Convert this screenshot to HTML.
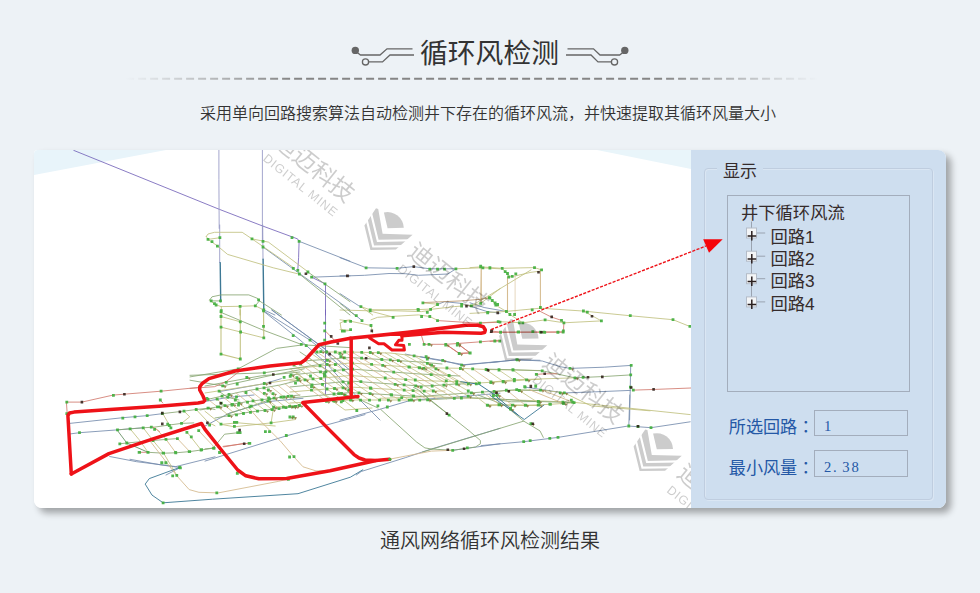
<!DOCTYPE html>
<html lang="zh-CN">
<head>
<meta charset="utf-8">
<title>循环风检测</title>
<style>
*{box-sizing:border-box;margin:0;padding:0}
html,body{width:980px;height:593px;overflow:hidden}
body{position:relative;background:#edf2f6;font-family:"Liberation Sans","Noto Sans CJK SC",sans-serif;color:#333}
.abs{position:absolute}
#title{left:-0.5px;width:980px;top:33.6px;height:40px;line-height:40px;text-align:center;font-size:27.8px;color:#333;letter-spacing:0}
#deco{left:0;top:0;width:980px;height:100px}
#sub{left:-2px;width:980px;top:102px;height:24px;line-height:24px;text-align:center;font-size:16px;color:#333;font-weight:350}
#cap{left:0;width:980px;top:525.6px;font-weight:350;height:30px;line-height:30px;text-align:center;font-size:20px;color:#333}
#card{left:34px;top:150px;width:912px;height:357.5px;border-radius:4px 8px 8px 8px;background:#fff;box-shadow:5px 5px 7.5px rgba(0,0,0,.33);overflow:hidden}
#map{left:0;top:0;width:657px;height:358px;background:#fff}
#side{left:657px;top:0;width:255px;height:358px;background:#cedeef}
#fs{left:13px;top:18px;width:229px;height:332px;border:1px solid #bfcddf;border-radius:4px;box-shadow:inset 1px 1px 0 rgba(255,255,255,.25),1px 1px 0 rgba(255,255,255,.25)}
#legend{left:56px;top:9.7px;height:24px;line-height:24px;padding:0 6px;background:#cedeef;font-size:17px;color:#352b2b}
#tree{left:69px;top:45px;width:183px;height:196.5px;border:1px solid #a3adbc}
.t0{left:83px;top:51px;font-size:17.3px;line-height:24px;color:#352b2b;white-space:nowrap}
.ti{margin-left:-1px;left:113.5px;font-size:17.3px;line-height:24px;color:#352b2b;white-space:nowrap}
.lbl{left:70.5px;font-size:17.1px;line-height:24px;color:#2458a6;white-space:nowrap}
.inp{left:123.3px;width:94px;height:26.3px;border:1px solid #a3adbc;font-family:"Liberation Serif","Noto Serif CJK SC",serif;font-size:14.6px;line-height:24px;color:#2458a6;padding-left:8.6px;padding-top:2.8px;white-space:nowrap}
.inp i{display:inline-block;width:9.2px;font-style:normal}
.lbl b{font-weight:400;font-family:"Noto Sans CJK TC","Noto Sans CJK JP",sans-serif}
</style>
</head>
<body>
<svg id="deco" class="abs" viewBox="0 0 980 100" fill="none" stroke="#666" stroke-width="1.3">
  <defs><linearGradient id="dg" gradientUnits="userSpaceOnUse" x1="126" y1="0" x2="818" y2="0"><stop offset="0" stop-color="#858585" stop-opacity="0"/><stop offset=".24" stop-color="#858585"/><stop offset=".77" stop-color="#858585"/><stop offset="1" stop-color="#858585" stop-opacity="0"/></linearGradient></defs>
  <path d="M126.1 78.8H818.100" stroke="url(#dg)" stroke-width="2" stroke-dasharray="8 4"/>
  <circle cx="355.3" cy="50.4" r="3.7" fill="#666" stroke="none"/>
  <polyline points="357.5,52.8 360.5,55 380,55 387,48.8 412.5,48.8"/>
  <circle cx="365.5" cy="61.9" r="3.1" fill="#edf2f6"/>
  <polyline points="368.8,61.9 382.5,61.9 390,55 414,55"/>
  <circle cx="624.8" cy="50.4" r="3.7" fill="#666" stroke="none"/>
  <polyline points="622.6,52.8 619.6,55 600,55 593.5,48.8 567.5,48.8"/>
  <circle cx="614.5" cy="61.9" r="3.1" fill="#edf2f6"/>
  <polyline points="611.2,61.9 598,61.9 591,55 566,55"/>
</svg>
<div id="title" class="abs">循环风检测</div>
<div id="sub" class="abs">采用单向回路搜索算法自动检测井下存在的循环风流，并快速提取其循环风量大小</div>

<div id="card" class="abs">
  <div id="map" class="abs">
<!--MAPSVG--><svg class="abs" style="left:0;top:0" width="657" height="358" viewBox="0 0 657 358" fill="none" stroke-linejoin="round" stroke-linecap="round">
<polygon points="0,0 132,0 0,25" fill="#e8f4fa"/><polygon points="563,0 657,0 657,19" fill="#e9f5fa"/>
<path d="M39.8,0.4 L185.5,59.4 L228.9,76.1 L263.6,88.9 L265.0,91.3 M265.1,91.3 L264.6,107.7 L263.8,119.9 M277.6,127.2 L291.0,133.8 M291.5,133.8 L291.5,165.0 M291.5,160.0 L291.5,244.9" stroke="#7161b8" stroke-width="0.9" opacity=".92"/>
<path d="M184.9,0.0 L184.9,29.4 L185.2,78.4 M228.4,0.0 L228.4,90.0 M185.7,75.0 L185.7,112.6 M228.7,75.0 L229.0,109.3" stroke="#9194c2" stroke-width="0.9" opacity=".92"/>
<path d="M186.2,112.6 L186.7,151.7 M229.1,109.3 L229.8,159.9" stroke="#2c6d8c" stroke-width="1.4" opacity=".92"/>
<path d="M265.1,91.3 L316.0,111.2 M277.6,127.2 L313.6,125.9 L316.0,125.9 M229.0,97.0 L263.8,122.3 L316.0,159.9 M229.8,159.9 L240.9,165.0 M306.0,107.7 L327.2,115.8 L332.1,117.8 L363.1,118.3 L379.5,116.6 L395.8,118.8 L421.9,118.8 M306.0,125.9 L313.3,125.9 L330.5,125.3 L355.0,123.5 L371.3,123.7 L384.4,125.3 L413.8,124.0 L421.9,118.8 M306.0,143.6 L324.8,155.8 L327.2,156.6 M403.5,154.5 L410.5,151.7 L427.6,153.4 L452.9,161.5 L466.0,163.2 M436.0,152.8 L450.1,157.5 L472.4,161.5 M229.5,160.8 L276.0,190.2 L291.5,202.4 L316.0,225.3 M237.6,160.0 L291.5,199.2 M185.4,241.6 L231.1,233.5 L247.4,228.6 M35.7,273.4 L88.8,267.7 L112.4,265.7 L128.8,263.6 M35.7,284.0 L45.5,282.7 L83.0,279.9 L109.2,277.8 M75.7,306.5 L102.6,311.7 L141.8,316.6 L181.0,306.8 M132.0,325.0 L146.7,317.4 M171.0,311.1 L252.6,285.8 L331.0,264.6 M171.0,251.5 L193.9,247.4 L220.0,245.0 M171.0,276.0 L195.5,263.0 L234.7,251.5 L269.0,248.3 M96.0,309.3 L126.3,314.8 L145.6,317.5 M306.0,270.1 L345.2,259.5 L377.8,250.0 L420.3,247.2 L466.0,243.2 M322.3,325.0 L327.2,321.5 L371.3,307.7 L397.4,299.0 L466.0,278.3 M418.7,300.3 L466.0,293.8 M447.2,295.6 L489.7,291.7 L524.0,287.4 L594.2,276.0 L617.0,277.7 L656.2,271.8 M595.8,245.0 L594.8,276.0 M456.0,212.7 L482.9,209.7 L508.2,211.0 L526.2,216.7 L536.0,218.4 L570.3,217.2 L597.2,215.4 M596.7,215.4 L596.1,245.3 L595.6,270.0 M491.1,237.1 L530.3,242.9 L557.2,242.0 L596.4,240.4 M314.2,160.0 L324.0,167.3 L328.0,170.6 M371.3,204.1 L397.4,209.0 L430.1,214.7 L466.0,211.4 M386.0,206.6 L408.0,210.3 L427.6,215.2 L447.2,213.4 L482.7,209.9 L506.0,210.3 M228.0,160.0 L266.0,190.0 L291.0,212.0 L326.0,250.0 L346.0,270.0 M238.0,160.0 L292.0,200.0 L318.0,222.0" stroke="#7189ab" stroke-width="0.9" opacity=".92"/>
<path d="M172.3,86.4 L174.0,84.0 L180.5,82.3 L208.2,82.3 L218.0,88.9 L228.7,91.0 L234.4,92.1 L273.6,121.5 M218.0,88.9 L260.5,118.3 M172.3,86.4 L174.0,89.4 L183.8,96.2 L193.6,104.4 L239.3,117.8 L264.6,124.0 M174.0,89.4 L185.9,87.7 M221.3,155.8 L205.8,156.3 L187.0,156.6 L180.5,154.2 L175.6,150.1 M187.3,156.6 L187.3,165.0 M221.3,155.8 L229.8,159.9 M421.9,118.8 L447.2,117.8 L466.0,118.8 M446.7,153.4 L466.0,138.7 M327.2,156.6 L336.2,159.9 L384.4,159.6 L395.8,159.1 L404.0,154.2 L389.3,153.0 M326.9,156.6 L338.7,165.0 M427.6,154.5 L437.4,155.8 L446.7,153.4 M396.6,159.4 L420.3,156.6 L427.6,156.1 M436.0,117.6 L446.6,116.9 L467.7,118.3 L500.5,117.6 L507.6,119.9 M467.7,118.3 L473.5,123.5 L474.7,127.0 L481.8,125.8 L497.0,122.3 L506.4,121.1 M497.0,119.9 L446.6,150.5 L436.0,156.3 M436.0,163.4 L471.2,161.5 L506.4,158.2 L548.6,161.0 L595.6,165.7 L639.0,169.7 L655.4,176.3 M549.4,161.0 L567.4,170.9 L529.9,172.8 L511.1,169.9 L488.8,172.8 L464.2,171.6 L443.0,173.2 M458.3,150.5 L461.8,155.2 L472.4,161.5 L475.9,164.5 L488.8,172.8 M187.0,177.1 L206.6,182.0 L229.5,187.8 M187.0,166.5 L206.3,171.8 M306.2,173.1 L311.1,170.6 L316.0,169.8 M306.2,173.1 L307.0,178.8 L310.3,181.2 L316.0,180.4 M96.1,278.8 L105.1,289.7 L114.1,302.3 M109.2,277.8 L119.0,290.5 L129.6,303.2 L142.6,325.0 M153.2,282.3 L167.1,300.0 M128.8,263.6 L135.3,275.0 L136.9,277.8 M150.0,261.1 L155.7,266.8 L147.5,273.4 M162.2,259.5 L174.5,272.6 L181.0,275.8 M171.0,261.3 L187.3,274.4 L203.7,272.8 L241.2,276.0 M187.3,274.4 L200.4,276.8 L237.9,272.8 L261.6,269.5 L259.2,266.2 M239.6,257.2 L249.4,256.4 L261.6,256.1 L269.0,252.3 M234.7,251.5 L239.6,257.2 L237.1,272.8 M311.4,251.5 L322.8,260.5 M538.7,252.2 L656.2,264.6 M346.0,248.3 L395.0,246.6 L538.7,252.2 M456.0,232.2 L480.5,229.8 L540.9,227.8 M456.0,242.9 L472.3,240.4 L508.2,240.1 L530.3,242.9 L557.2,255.9 L616.0,260.8 M456.0,255.1 L491.9,255.4 L516.4,254.3 L540.1,252.7 M306.0,169.8 L317.4,171.4 L337.0,175.5 L338.7,182.9 M337.0,169.8 L343.6,167.3 L384.4,164.9 L395.8,166.5 L404.0,170.6 M306.0,160.0 L335.4,160.8 L359.9,167.3 M335.4,160.0 L387.6,161.6 L397.4,160.0 M306.0,179.6 L317.4,180.4 M386.0,217.7 L426.4,218.3 L452.1,219.5 L482.7,220.1 L506.0,220.5 M386.0,230.5 L422.7,231.7 L444.8,233.0 L469.3,231.5 L492.5,229.9 L506.0,229.3 M453.3,255.2 L465.6,254.8 L491.3,255.2 L506.0,255.6 M278.5,202.0 L316.0,202.0 L316.0,202.0 L356.0,203.0 L356.0,203.0 L386.0,206.6 M256.0,219.0 L316.0,213.0 L316.0,213.0 L386.0,217.7 M256.0,231.0 L316.0,225.5 L316.0,225.5 L386.0,230.5 M256.0,242.0 L316.0,237.0 L316.0,237.0 L386.0,241.0 L386.0,241.0 L411.0,241.0 M256.0,253.0 L316.0,250.0 L316.0,250.0 L386.0,250.0 M262.0,222.0 L286.0,242.0 L311.0,260.0 L338.0,258.0 M171.0,243.0 L216.0,236.0 L266.0,228.0" stroke="#bfbf7c" stroke-width="0.9" opacity=".92"/>
<path d="M265.4,124.0 L316.0,165.0 M273.9,122.0 L316.0,151.7 M175.6,150.1 L178.0,146.8 L187.0,144.9 L214.8,144.9 L223.8,148.5 L225.4,150.9 L221.3,155.8 M177.2,150.9 L186.5,150.9 M225.4,150.9 L247.4,165.0 M306.0,153.4 L320.7,165.0 M187.0,162.4 L227.8,179.6 L267.0,194.3 L273.6,195.1 L316.0,197.6 M156.0,226.9 L204.2,218.8 L242.5,198.4 L267.0,195.1 M156.0,225.3 L229.5,222.9 L289.9,213.9 M156.0,230.2 L188.7,235.9 L237.6,225.3 L270.3,218.8 M185.4,241.6 L193.6,247.3 L205.0,250.0 M128.8,263.6 L150.0,261.1 L162.2,259.5 L174.5,258.2 L181.0,259.5 M83.0,279.9 L96.1,278.8 L109.2,277.8 L120.6,277.1 L135.3,275.0 L147.5,273.4 L159.8,272.9 M85.5,293.8 L92.8,293.0 L119.0,290.5 L132.0,289.4 L143.4,288.6 M114.1,302.3 L129.6,303.2 L141.8,302.8 L155.7,301.6 L167.1,300.0 L181.0,297.9 M171.0,298.9 L179.2,298.1 L190.6,284.2 L205.3,282.6 M192.2,264.6 L216.7,256.4 L239.6,248.3 M346.8,259.5 L382.7,292.1 L390.9,297.9 L397.4,299.0 L418.7,300.3 L441.5,297.0 L446.4,293.8 L446.4,290.5 L435.0,280.7 L415.4,265.2 L397.4,251.3 L384.4,239.9 L379.5,237.4 M388.4,302.1 L489.7,271.1 L470.1,254.8 L444.0,245.0 M489.7,271.1 L506.0,280.9 L509.3,287.4 M456.0,219.2 L478.9,219.7 L508.2,220.8 L540.9,227.8 L570.3,226.5 L596.7,224.9 M456.0,248.6 L477.2,251.8 L505.0,251.5 L540.1,252.7 M386.0,236.0 L398.2,235.7 L422.7,233.9 L435.0,233.9 M386.0,246.4 L437.4,242.8 L459.5,241.3 L482.7,239.7 L496.2,240.3 L506.0,240.6 M386.0,250.1 L435.0,247.7 L464.4,248.9 L506.0,251.9 M386.0,241.5 L414.2,264.2 M271.7,210.9 L316.0,207.5 L316.0,207.5 L386.0,212.0 L386.0,212.0 L408.0,214.0 M256.0,225.0 L316.0,219.0 L316.0,219.0 L386.0,224.0 L386.0,224.0 L426.0,226.0 M256.0,237.0 L316.0,231.0 L316.0,231.0 L386.0,236.0 M256.0,248.0 L316.0,242.6 L316.0,242.6 L386.0,246.4 M171.0,250.0 L206.0,242.0 L246.0,235.0 L266.0,230.0 M166.0,260.0 L211.0,252.0 L256.0,246.0 L266.0,245.0 M181.0,268.0 L216.0,262.0 L256.0,257.0 L266.0,255.0 M266.0,202.0 L296.0,222.0 L318.0,246.0 L344.0,258.0 M171.0,236.0 L226.0,226.0 L266.0,222.0" stroke="#86a470" stroke-width="0.9" opacity=".92"/>
<path d="M206.1,156.3 L206.1,165.0 M229.5,160.0 L229.8,187.8" stroke="#bfbf7c" stroke-width="1.2" opacity=".92"/>
<path d="M447.2,116.6 L446.7,153.4 M447.3,116.9 L447.3,154.0 M506.4,119.9 L506.4,157.5 M473.5,127.0 L473.5,162.2" stroke="#d2b688" stroke-width="1.1" opacity=".92"/>
<path d="M389.3,152.6 L426.8,150.9 L446.4,149.3 L455.4,147.7" stroke="#b8946a" stroke-width="0.9" opacity=".92"/>
<path d="M481.1,126.3 L481.1,163.4" stroke="#d2b688" stroke-width="0.6" opacity=".92"/>
<path d="M506.4,161.5 L517.0,166.9 L527.5,170.4 L529.9,172.8 L529.4,182.1 L506.4,182.1 L466.5,182.1 L457.1,181.0 M156.0,238.4 L180.5,236.7 L191.9,231.8 L205.0,221.7 M291.5,181.2 L296.4,186.1 L302.9,192.7 M32.4,252.1 L47.9,252.1 L79.0,245.1 L127.1,241.2 L164.7,237.4 M32.4,252.1 L33.2,263.6 M105.1,302.3 L114.1,302.3 M126.3,250.0 L128.8,253.0 M119.0,277.1 L125.5,281.5 M189.0,296.4 L210.2,293.7 L215.1,293.3 M189.7,296.9 L210.3,293.3 M456.0,182.4 L529.5,182.0 M456.0,191.4 L465.8,191.1 M599.7,240.1 L616.0,239.6 L657.0,238.0 M502.5,224.4 L510.7,223.8 L522.9,223.8 M404.0,170.6 L443.1,173.1 L466.0,172.2 M387.6,186.1 L390.1,194.3 L412.1,194.3 L423.6,193.5 L446.4,191.8 L466.0,190.2 M412.1,194.3 L425.2,203.3 L435.8,202.8 L423.6,193.5 M412.9,195.0 L425.2,203.6 L436.2,203.0 L425.2,195.0" stroke="#d0766a" stroke-width="0.9" opacity=".92"/>
<path d="M187.0,161.6 L187.0,204.1 L206.3,209.0 L206.3,160.0" stroke="#bfbf7c" stroke-width="1.1" opacity=".92"/>
<path d="M83.0,279.9 L92.8,293.0 L114.1,302.3" stroke="#5c8a5a" stroke-width="0.9" opacity=".92"/>
<path d="M120.6,277.1 L132.0,289.4 L141.8,302.8 M143.4,288.6 L155.7,301.6 M164.7,280.7 L181.0,297.9 M215.1,258.1 L224.9,269.5 L246.1,290.7 L260.0,307.0 L269.0,316.8 L282.0,320.9 L293.4,320.4 M115.3,290.0 L142.8,325.8 L155.2,339.6 L164.9,342.3 L184.2,342.9 L244.8,331.3 L255.8,328.6 M355.0,309.3 L397.4,301.1 L418.7,300.3 M495.2,239.6 L529.5,253.5 M508.2,240.1 L540.1,252.7" stroke="#d2b688" stroke-width="0.9" opacity=".92"/>
<path d="M328.8,319.8 L316.4,327.2 L264.0,343.7 L178.6,349.2 L129.1,352.8 L118.0,345.1 L111.2,334.1 L115.3,328.6 L145.6,317.5 M456.0,245.3 L490.3,269.5 L509.9,255.1" stroke="#2c6d8c" stroke-width="0.9" opacity=".92"/>
<path d="M426.4,231.7 L444.8,234.2 L459.5,244.0 L476.6,258.7 L484.0,265.0" stroke="#2c6d8c" stroke-width="1.0" opacity=".92"/>
<path d="M389.7,218.3 L412.9,231.1 M401.9,218.9 L422.7,231.7 M414.2,218.3 L435.0,233.0 M438.7,218.9 L457.0,231.7 M448.4,242.1 L465.6,254.8 M460.7,241.5 L478.4,255.2 M472.9,240.3 L491.3,255.2" stroke="#d2b688" stroke-width="0.8" opacity=".92"/>
<path d="M427.6,218.9 L444.8,232.3 M452.7,220.1 L469.3,231.5 M465.0,220.1 L480.3,230.5 M479.1,220.1 L492.5,229.9 M437.4,242.8 L453.3,255.2 M484.0,239.7 L506.0,253.8 M386.0,223.2 L399.5,231.7 M386.0,210.9 L393.3,217.7 M393.3,213.4 L401.9,218.9" stroke="#bfbf7c" stroke-width="0.8" opacity=".92"/>
<path d="M257.0,225.0 L292.5,251.3 M266.5,214.2 L317.0,250.2 M274.0,207.5 L335.5,250.2 M282.9,202.0 L354.4,250.2 M292.6,202.0 L365.1,250.0 M310.7,202.0 L385.7,250.1 M318.1,202.1 L393.6,249.8 M327.7,202.3 L403.2,249.2 M344.3,202.7 L420.3,248.4 M174.0,249.3 L183.5,256.9 M181.0,247.7 L191.0,255.7 M188.0,246.1 L198.5,254.5 M195.0,244.5 L206.0,253.3 M202.0,242.9 L213.5,252.1 M209.0,241.5 L221.0,251.1 M216.0,240.2 L228.0,249.9 M223.0,239.0 L235.5,249.0 M230.0,237.8 L242.5,247.8 M237.0,236.6 L250.0,247.0 M244.0,235.4 L257.5,246.2 M251.0,233.8 L265.5,245.4" stroke="#d2b688" stroke-width="0.8" opacity=".92"/>
<path d="M257.0,219.5 L300.0,251.0 M260.0,215.1 L309.0,250.5 M271.0,211.1 L326.5,250.1 M277.1,203.4 L345.6,250.1 M301.3,202.0 L375.3,250.2 M336.3,202.5 L412.3,248.9 M351.4,202.9 L427.4,248.0 M361.2,203.6 L434.2,246.1 M370.8,204.8 L434.3,241.0 M380.1,205.9 L434.1,236.1 M184.0,256.8 L195.0,265.6 M191.0,255.6 L202.5,264.8 M198.0,254.3 L209.5,263.5 M205.0,253.1 L216.5,262.3 M212.0,251.9 L223.5,261.1 M219.0,250.9 L231.0,260.5 M226.0,250.0 L238.0,259.6 M233.0,249.1 L245.0,258.7 M240.0,248.1 L252.0,257.7 M247.0,247.2 L259.0,256.8 M254.0,246.3 L265.5,255.5" stroke="#bfbf7c" stroke-width="0.8" opacity=".92"/>
<path d="M172.6 88.0h2.8v2.8h-2.8z M176.6 90.3h2.8v2.8h-2.8z M182.0 94.8h2.8v2.8h-2.8z M184.5 86.3h2.8v2.8h-2.8z M216.6 87.5h2.8v2.8h-2.8z M227.6 89.9h2.8v2.8h-2.8z M227.6 95.6h2.8v2.8h-2.8z M256.6 86.3h2.8v2.8h-2.8z M263.7 89.9h2.8v2.8h-2.8z M257.9 116.9h2.8v2.8h-2.8z M262.4 119.0h2.8v2.8h-2.8z M264.0 122.6h2.8v2.8h-2.8z M272.5 120.6h2.8v2.8h-2.8z M276.2 125.8h2.8v2.8h-2.8z M289.6 132.4h2.8v2.8h-2.8z M175.8 149.5h2.8v2.8h-2.8z M179.1 152.3h2.8v2.8h-2.8z M180.7 153.6h2.8v2.8h-2.8z M185.1 149.5h2.8v2.8h-2.8z M223.2 148.4h2.8v2.8h-2.8z M219.9 154.4h2.8v2.8h-2.8z M204.7 154.9h2.8v2.8h-2.8z M185.9 159.3h2.8v2.8h-2.8z M228.4 158.5h2.8v2.8h-2.8z M330.7 116.4h2.8v2.8h-2.8z M361.7 116.9h2.8v2.8h-2.8z M394.4 117.7h2.8v2.8h-2.8z M402.1 117.7h2.8v2.8h-2.8z M409.1 117.7h2.8v2.8h-2.8z M420.5 117.4h2.8v2.8h-2.8z M445.3 114.7h2.8v2.8h-2.8z M447.5 116.4h2.8v2.8h-2.8z M454.5 116.7h2.8v2.8h-2.8z M325.5 155.2h2.8v2.8h-2.8z M334.8 158.5h2.8v2.8h-2.8z M382.6 158.0h2.8v2.8h-2.8z M387.5 151.5h2.8v2.8h-2.8z M395.2 158.0h2.8v2.8h-2.8z M402.1 153.1h2.8v2.8h-2.8z M426.2 153.1h2.8v2.8h-2.8z M426.2 154.7h2.8v2.8h-2.8z M436.0 154.4h2.8v2.8h-2.8z M445.3 152.0h2.8v2.8h-2.8z M454.0 146.3h2.8v2.8h-2.8z M456.8 149.0h2.8v2.8h-2.8z M459.7 151.6h2.8v2.8h-2.8z M462.2 153.1h2.8v2.8h-2.8z M391.9 160.9h2.8v2.8h-2.8z M445.2 115.5h2.8v2.8h-2.8z M454.5 116.2h2.8v2.8h-2.8z M466.8 116.9h2.8v2.8h-2.8z M469.8 120.2h2.8v2.8h-2.8z M472.1 122.1h2.8v2.8h-2.8z M473.3 125.6h2.8v2.8h-2.8z M476.8 124.9h2.8v2.8h-2.8z M480.4 122.5h2.8v2.8h-2.8z M499.1 116.2h2.8v2.8h-2.8z M506.2 118.5h2.8v2.8h-2.8z M454.5 146.7h2.8v2.8h-2.8z M456.9 149.1h2.8v2.8h-2.8z M460.4 153.8h2.8v2.8h-2.8z M452.2 161.5h2.8v2.8h-2.8z M471.0 160.1h2.8v2.8h-2.8z M474.5 163.1h2.8v2.8h-2.8z M479.2 163.1h2.8v2.8h-2.8z M496.8 158.4h2.8v2.8h-2.8z M505.0 156.1h2.8v2.8h-2.8z M548.0 159.6h2.8v2.8h-2.8z M551.9 160.8h2.8v2.8h-2.8z M566.0 169.5h2.8v2.8h-2.8z M594.9 164.3h2.8v2.8h-2.8z M637.6 168.3h2.8v2.8h-2.8z M654.5 174.9h2.8v2.8h-2.8z M509.7 168.5h2.8v2.8h-2.8z M526.1 169.0h2.8v2.8h-2.8z M528.5 171.4h2.8v2.8h-2.8z M528.0 179.6h2.8v2.8h-2.8z M522.6 180.7h2.8v2.8h-2.8z M508.5 180.7h2.8v2.8h-2.8z M505.0 180.7h2.8v2.8h-2.8z M497.5 180.3h2.8v2.8h-2.8z M482.7 180.7h2.8v2.8h-2.8z M465.1 180.7h2.8v2.8h-2.8z M487.4 171.4h2.8v2.8h-2.8z M483.9 171.4h2.8v2.8h-2.8z M462.8 170.2h2.8v2.8h-2.8z M185.6 160.2h2.8v2.8h-2.8z M185.6 165.1h2.8v2.8h-2.8z M185.6 175.7h2.8v2.8h-2.8z M185.6 202.7h2.8v2.8h-2.8z M204.9 170.4h2.8v2.8h-2.8z M205.2 180.6h2.8v2.8h-2.8z M204.9 207.6h2.8v2.8h-2.8z M228.1 174.9h2.8v2.8h-2.8z M228.4 186.4h2.8v2.8h-2.8z M228.1 159.4h2.8v2.8h-2.8z M257.8 184.2h2.8v2.8h-2.8z M265.9 192.9h2.8v2.8h-2.8z M270.8 194.2h2.8v2.8h-2.8z M274.6 188.8h2.8v2.8h-2.8z M289.3 171.7h2.8v2.8h-2.8z M289.3 179.5h2.8v2.8h-2.8z M289.3 188.8h2.8v2.8h-2.8z M202.8 217.4h2.8v2.8h-2.8z M190.8 230.9h2.8v2.8h-2.8z M187.3 234.5h2.8v2.8h-2.8z M183.7 239.7h2.8v2.8h-2.8z M192.5 245.9h2.8v2.8h-2.8z M228.9 221.5h2.8v2.8h-2.8z M228.9 232.1h2.8v2.8h-2.8z M228.9 241.9h2.8v2.8h-2.8z M233.0 238.6h2.8v2.8h-2.8z M308.9 179.8h2.8v2.8h-2.8z M309.7 170.0h2.8v2.8h-2.8z M31.4 250.7h2.8v2.8h-2.8z M31.4 262.2h2.8v2.8h-2.8z M78.0 243.9h2.8v2.8h-2.8z M125.7 239.8h2.8v2.8h-2.8z M124.9 248.6h2.8v2.8h-2.8z M87.4 266.7h2.8v2.8h-2.8z M99.6 265.4h2.8v2.8h-2.8z M111.8 264.3h2.8v2.8h-2.8z M126.9 262.2h2.8v2.8h-2.8z M44.1 281.3h2.8v2.8h-2.8z M82.1 278.5h2.8v2.8h-2.8z M94.7 277.4h2.8v2.8h-2.8z M107.8 276.4h2.8v2.8h-2.8z M115.9 275.7h2.8v2.8h-2.8z M119.2 278.0h2.8v2.8h-2.8z M132.3 272.8h2.8v2.8h-2.8z M133.9 274.1h2.8v2.8h-2.8z M135.5 276.4h2.8v2.8h-2.8z M146.1 272.0h2.8v2.8h-2.8z M148.6 259.7h2.8v2.8h-2.8z M160.8 258.1h2.8v2.8h-2.8z M172.6 256.8h2.8v2.8h-2.8z M84.4 292.4h2.8v2.8h-2.8z M91.4 291.6h2.8v2.8h-2.8z M117.6 289.1h2.8v2.8h-2.8z M130.6 288.0h2.8v2.8h-2.8z M142.0 287.2h2.8v2.8h-2.8z M155.9 285.5h2.8v2.8h-2.8z M151.5 280.9h2.8v2.8h-2.8z M163.3 279.3h2.8v2.8h-2.8z M103.7 300.9h2.8v2.8h-2.8z M112.7 300.9h2.8v2.8h-2.8z M128.2 301.8h2.8v2.8h-2.8z M140.4 301.4h2.8v2.8h-2.8z M154.3 300.2h2.8v2.8h-2.8z M165.7 298.6h2.8v2.8h-2.8z M178.3 296.8h2.8v2.8h-2.8z M126.5 311.5h2.8v2.8h-2.8z M130.6 311.5h2.8v2.8h-2.8z M145.0 316.4h2.8v2.8h-2.8z M192.5 246.0h2.8v2.8h-2.8z M172.9 256.7h2.8v2.8h-2.8z M185.9 251.8h2.8v2.8h-2.8z M196.5 253.7h2.8v2.8h-2.8z M203.1 253.7h2.8v2.8h-2.8z M214.5 255.4h2.8v2.8h-2.8z M232.5 249.8h2.8v2.8h-2.8z M238.2 255.8h2.8v2.8h-2.8z M248.0 255.8h2.8v2.8h-2.8z M254.2 255.0h2.8v2.8h-2.8z M260.2 255.0h2.8v2.8h-2.8z M254.5 265.6h2.8v2.8h-2.8z M257.8 265.6h2.8v2.8h-2.8z M235.7 271.4h2.8v2.8h-2.8z M199.0 271.0h2.8v2.8h-2.8z M201.4 271.0h2.8v2.8h-2.8z M174.2 273.8h2.8v2.8h-2.8z M185.6 272.7h2.8v2.8h-2.8z M199.0 274.9h2.8v2.8h-2.8z M202.3 281.2h2.8v2.8h-2.8z M204.7 281.2h2.8v2.8h-2.8z M230.0 280.3h2.8v2.8h-2.8z M234.1 280.3h2.8v2.8h-2.8z M250.9 284.1h2.8v2.8h-2.8z M178.1 296.7h2.8v2.8h-2.8z M184.3 301.2h2.8v2.8h-2.8z M213.7 291.9h2.8v2.8h-2.8z M254.2 305.6h2.8v2.8h-2.8z M258.6 305.3h2.8v2.8h-2.8z M201.9 322.0h2.8v2.8h-2.8z M321.4 259.1h2.8v2.8h-2.8z M181.8 247.7h2.8v2.8h-2.8z M305.9 250.5h2.8v2.8h-2.8z M127.7 351.4h2.8v2.8h-2.8z M181.4 341.5h2.8v2.8h-2.8z M137.3 324.4h2.8v2.8h-2.8z M141.4 323.9h2.8v2.8h-2.8z M126.3 311.2h2.8v2.8h-2.8z M130.4 311.2h2.8v2.8h-2.8z M144.2 316.1h2.8v2.8h-2.8z M202.0 321.7h2.8v2.8h-2.8z M214.4 291.9h2.8v2.8h-2.8z M104.2 301.0h2.8v2.8h-2.8z M112.5 301.0h2.8v2.8h-2.8z M127.7 301.8h2.8v2.8h-2.8z M140.1 301.0h2.8v2.8h-2.8z M153.8 300.2h2.8v2.8h-2.8z M166.2 298.2h2.8v2.8h-2.8z M178.6 296.9h2.8v2.8h-2.8z M184.1 301.0h2.8v2.8h-2.8z M253.0 328.0h2.8v2.8h-2.8z M354.4 307.9h2.8v2.8h-2.8z M417.3 298.9h2.8v2.8h-2.8z M431.9 296.5h2.8v2.8h-2.8z M413.7 263.8h2.8v2.8h-2.8z M376.1 248.6h2.8v2.8h-2.8z M366.3 246.3h2.8v2.8h-2.8z M351.9 255.6h2.8v2.8h-2.8z M342.5 254.5h2.8v2.8h-2.8z M452.4 254.0h2.8v2.8h-2.8z M463.8 253.2h2.8v2.8h-2.8z M488.3 290.3h2.8v2.8h-2.8z M494.8 289.3h2.8v2.8h-2.8z M514.4 287.0h2.8v2.8h-2.8z M522.6 286.0h2.8v2.8h-2.8z M593.4 274.6h2.8v2.8h-2.8z M602.6 275.3h2.8v2.8h-2.8z M615.6 276.3h2.8v2.8h-2.8z M495.5 272.3h2.8v2.8h-2.8z M452.4 254.0h2.8v2.8h-2.8z M463.8 253.4h2.8v2.8h-2.8z M475.2 256.7h2.8v2.8h-2.8z M489.9 254.0h2.8v2.8h-2.8z M503.6 253.4h2.8v2.8h-2.8z M514.4 252.7h2.8v2.8h-2.8z M527.5 250.8h2.8v2.8h-2.8z M537.3 250.8h2.8v2.8h-2.8z M459.5 189.7h2.8v2.8h-2.8z M464.4 189.7h2.8v2.8h-2.8z M465.2 181.0h2.8v2.8h-2.8z M483.2 180.6h2.8v2.8h-2.8z M497.4 180.2h2.8v2.8h-2.8z M509.3 180.9h2.8v2.8h-2.8z M522.4 180.9h2.8v2.8h-2.8z M527.7 180.6h2.8v2.8h-2.8z M481.5 208.3h2.8v2.8h-2.8z M534.6 217.0h2.8v2.8h-2.8z M595.8 214.0h2.8v2.8h-2.8z M463.6 218.3h2.8v2.8h-2.8z M477.5 218.3h2.8v2.8h-2.8z M506.8 219.4h2.8v2.8h-2.8z M501.1 223.0h2.8v2.8h-2.8z M539.5 226.4h2.8v2.8h-2.8z M547.7 225.9h2.8v2.8h-2.8z M595.3 223.5h2.8v2.8h-2.8z M479.1 228.4h2.8v2.8h-2.8z M491.3 228.4h2.8v2.8h-2.8z M467.7 230.5h2.8v2.8h-2.8z M455.4 231.2h2.8v2.8h-2.8z M489.7 235.7h2.8v2.8h-2.8z M500.3 234.9h2.8v2.8h-2.8z M505.2 238.7h2.8v2.8h-2.8z M524.8 241.5h2.8v2.8h-2.8z M528.9 241.5h2.8v2.8h-2.8z M470.9 239.0h2.8v2.8h-2.8z M484.0 239.0h2.8v2.8h-2.8z M597.9 238.7h2.8v2.8h-2.8z M595.0 235.7h2.8v2.8h-2.8z M461.9 243.9h2.8v2.8h-2.8z M457.9 244.4h2.8v2.8h-2.8z M463.6 253.4h2.8v2.8h-2.8z M477.5 253.7h2.8v2.8h-2.8z M490.5 254.0h2.8v2.8h-2.8z M503.6 253.7h2.8v2.8h-2.8z M515.0 252.9h2.8v2.8h-2.8z M528.1 252.1h2.8v2.8h-2.8z M538.7 251.3h2.8v2.8h-2.8z M502.8 250.1h2.8v2.8h-2.8z M475.0 257.8h2.8v2.8h-2.8z M535.9 248.8h2.8v2.8h-2.8z M315.2 170.0h2.8v2.8h-2.8z M315.2 178.2h2.8v2.8h-2.8z M309.8 170.0h2.8v2.8h-2.8z M326.6 169.2h2.8v2.8h-2.8z M335.6 174.1h2.8v2.8h-2.8z M357.7 165.9h2.8v2.8h-2.8z M386.2 165.1h2.8v2.8h-2.8z M394.4 165.1h2.8v2.8h-2.8z M402.1 169.2h2.8v2.8h-2.8z M445.0 171.7h2.8v2.8h-2.8z M452.4 161.0h2.8v2.8h-2.8z M464.6 170.8h2.8v2.8h-2.8z M388.7 192.9h2.8v2.8h-2.8z M393.6 192.9h2.8v2.8h-2.8z M410.4 192.9h2.8v2.8h-2.8z M422.2 192.1h2.8v2.8h-2.8z M423.8 201.9h2.8v2.8h-2.8z M434.4 201.4h2.8v2.8h-2.8z M445.0 190.4h2.8v2.8h-2.8z M459.4 189.6h2.8v2.8h-2.8z M374.0 192.9h2.8v2.8h-2.8z M307.0 179.8h2.8v2.8h-2.8z M320.9 164.3h2.8v2.8h-2.8z M334.8 159.4h2.8v2.8h-2.8z M383.0 158.6h2.8v2.8h-2.8z M391.9 161.0h2.8v2.8h-2.8z M390.7 205.2h2.8v2.8h-2.8z M391.9 207.7h2.8v2.8h-2.8z M407.3 208.9h2.8v2.8h-2.8z M426.2 213.8h2.8v2.8h-2.8z M481.9 208.5h2.8v2.8h-2.8z M391.9 212.0h2.8v2.8h-2.8z M396.2 213.8h2.8v2.8h-2.8z M388.3 216.9h2.8v2.8h-2.8z M400.5 217.5h2.8v2.8h-2.8z M411.5 216.6h2.8v2.8h-2.8z M425.0 217.1h2.8v2.8h-2.8z M437.3 217.5h2.8v2.8h-2.8z M450.7 218.1h2.8v2.8h-2.8z M463.6 218.7h2.8v2.8h-2.8z M477.7 218.7h2.8v2.8h-2.8z M500.9 223.0h2.8v2.8h-2.8z M410.9 229.4h2.8v2.8h-2.8z M421.3 230.3h2.8v2.8h-2.8z M421.3 232.8h2.8v2.8h-2.8z M433.0 232.5h2.8v2.8h-2.8z M440.9 232.5h2.8v2.8h-2.8z M444.0 231.8h2.8v2.8h-2.8z M455.6 230.6h2.8v2.8h-2.8z M467.9 230.1h2.8v2.8h-2.8z M478.9 227.9h2.8v2.8h-2.8z M478.9 229.4h2.8v2.8h-2.8z M491.1 228.5h2.8v2.8h-2.8z M500.3 234.6h2.8v2.8h-2.8z M489.3 235.2h2.8v2.8h-2.8z M396.8 234.6h2.8v2.8h-2.8z M385.8 235.8h2.8v2.8h-2.8z M408.5 233.8h2.8v2.8h-2.8z M436.0 241.4h2.8v2.8h-2.8z M447.0 240.7h2.8v2.8h-2.8z M458.7 239.9h2.8v2.8h-2.8z M458.1 244.0h2.8v2.8h-2.8z M461.7 244.0h2.8v2.8h-2.8z M470.9 238.7h2.8v2.8h-2.8z M481.3 238.3h2.8v2.8h-2.8z M483.8 239.2h2.8v2.8h-2.8z M451.9 253.8h2.8v2.8h-2.8z M464.2 253.4h2.8v2.8h-2.8z M477.0 253.8h2.8v2.8h-2.8z M489.9 253.8h2.8v2.8h-2.8z M502.8 253.8h2.8v2.8h-2.8z M503.4 250.5h2.8v2.8h-2.8z M475.2 257.3h2.8v2.8h-2.8z M423.8 202.2h2.8v2.8h-2.8z M434.8 201.6h2.8v2.8h-2.8z M410.3 193.6h2.8v2.8h-2.8z M421.9 193.6h2.8v2.8h-2.8z M262.6 228.8h2.8v2.8h-2.8z M276.1 238.8h2.8v2.8h-2.8z M291.1 249.9h2.8v2.8h-2.8z M255.6 223.6h2.8v2.8h-2.8z M269.6 228.4h2.8v2.8h-2.8z M276.6 233.5h2.8v2.8h-2.8z M298.1 249.2h2.8v2.8h-2.8z M298.6 249.6h2.8v2.8h-2.8z M277.6 227.4h2.8v2.8h-2.8z M291.6 237.6h2.8v2.8h-2.8z M298.6 242.6h2.8v2.8h-2.8z M307.6 249.1h2.8v2.8h-2.8z M258.6 213.7h2.8v2.8h-2.8z M299.1 237.1h2.8v2.8h-2.8z M306.1 242.1h2.8v2.8h-2.8z M315.1 248.5h2.8v2.8h-2.8z M315.6 248.8h2.8v2.8h-2.8z M265.1 212.8h2.8v2.8h-2.8z M285.1 220.5h2.8v2.8h-2.8z M307.6 236.4h2.8v2.8h-2.8z M325.1 248.7h2.8v2.8h-2.8z M284.6 214.5h2.8v2.8h-2.8z M307.6 230.4h2.8v2.8h-2.8z M323.6 241.5h2.8v2.8h-2.8z M334.1 248.8h2.8v2.8h-2.8z M334.7 242.3h2.8v2.8h-2.8z M344.2 248.7h2.8v2.8h-2.8z M300.0 213.1h2.8v2.8h-2.8z M308.0 218.5h2.8v2.8h-2.8z M316.5 224.2h2.8v2.8h-2.8z M325.5 230.2h2.8v2.8h-2.8z M335.0 236.6h2.8v2.8h-2.8z M335.5 237.0h2.8v2.8h-2.8z M353.0 248.8h2.8v2.8h-2.8z M281.5 200.6h2.8v2.8h-2.8z M317.2 217.8h2.8v2.8h-2.8z M355.7 243.3h2.8v2.8h-2.8z M356.2 243.6h2.8v2.8h-2.8z M363.7 248.6h2.8v2.8h-2.8z M291.2 200.6h2.8v2.8h-2.8z M308.9 206.5h2.8v2.8h-2.8z M316.9 211.7h2.8v2.8h-2.8z M373.9 248.8h2.8v2.8h-2.8z M299.9 200.6h2.8v2.8h-2.8z M349.8 226.6h2.8v2.8h-2.8z M359.8 233.0h2.8v2.8h-2.8z M368.8 238.7h2.8v2.8h-2.8z M377.8 244.5h2.8v2.8h-2.8z M378.3 244.8h2.8v2.8h-2.8z M384.3 248.7h2.8v2.8h-2.8z M309.3 200.6h2.8v2.8h-2.8z M326.2 206.7h2.8v2.8h-2.8z M336.2 213.0h2.8v2.8h-2.8z M368.7 233.5h2.8v2.8h-2.8z M377.7 239.2h2.8v2.8h-2.8z M392.2 248.4h2.8v2.8h-2.8z M316.7 200.7h2.8v2.8h-2.8z M347.3 213.9h2.8v2.8h-2.8z M358.3 220.8h2.8v2.8h-2.8z M370.3 228.2h2.8v2.8h-2.8z M380.3 234.4h2.8v2.8h-2.8z M388.8 239.7h2.8v2.8h-2.8z M326.3 200.9h2.8v2.8h-2.8z M346.4 208.1h2.8v2.8h-2.8z M379.9 228.6h2.8v2.8h-2.8z M397.9 239.6h2.8v2.8h-2.8z M334.9 201.1h2.8v2.8h-2.8z M354.9 208.5h2.8v2.8h-2.8z M418.9 247.0h2.8v2.8h-2.8z M342.9 201.3h2.8v2.8h-2.8z M363.0 209.2h2.8v2.8h-2.8z M373.5 215.4h2.8v2.8h-2.8z M374.0 215.7h2.8v2.8h-2.8z M426.0 246.6h2.8v2.8h-2.8z M383.8 216.2h2.8v2.8h-2.8z M384.3 216.5h2.8v2.8h-2.8z M395.8 223.2h2.8v2.8h-2.8z M432.8 244.7h2.8v2.8h-2.8z M432.9 239.6h2.8v2.8h-2.8z M413.7 224.1h2.8v2.8h-2.8z M378.7 204.5h2.8v2.8h-2.8z M172.6 247.9h2.8v2.8h-2.8z M182.1 255.5h2.8v2.8h-2.8z M186.6 244.7h2.8v2.8h-2.8z M197.1 253.1h2.8v2.8h-2.8z M193.6 243.1h2.8v2.8h-2.8z M212.1 250.7h2.8v2.8h-2.8z M226.6 248.5h2.8v2.8h-2.8z M221.6 237.6h2.8v2.8h-2.8z M234.1 247.6h2.8v2.8h-2.8z M228.6 236.4h2.8v2.8h-2.8z M248.6 245.6h2.8v2.8h-2.8z M256.1 244.8h2.8v2.8h-2.8z M182.6 255.4h2.8v2.8h-2.8z M193.6 264.2h2.8v2.8h-2.8z M189.6 254.2h2.8v2.8h-2.8z M201.1 263.4h2.8v2.8h-2.8z M196.6 252.9h2.8v2.8h-2.8z M208.1 262.1h2.8v2.8h-2.8z M203.6 251.7h2.8v2.8h-2.8z M215.1 260.9h2.8v2.8h-2.8z M222.1 259.7h2.8v2.8h-2.8z M217.6 249.5h2.8v2.8h-2.8z M229.6 259.1h2.8v2.8h-2.8z M236.6 258.2h2.8v2.8h-2.8z M243.6 257.3h2.8v2.8h-2.8z M238.6 246.7h2.8v2.8h-2.8z M250.6 256.3h2.8v2.8h-2.8z M245.6 245.8h2.8v2.8h-2.8z M257.6 255.4h2.8v2.8h-2.8z M252.6 244.9h2.8v2.8h-2.8z M264.1 254.1h2.8v2.8h-2.8z M305.4 205.2h2.8v2.8h-2.8z M287.1 232.9h2.8v2.8h-2.8z M291.8 212.9h2.8v2.8h-2.8z M289.6 224.4h2.8v2.8h-2.8z M304.5 201.9h2.8v2.8h-2.8z M292.0 209.0h2.8v2.8h-2.8z M276.1 235.2h2.8v2.8h-2.8z M289.0 224.7h2.8v2.8h-2.8z M303.2 242.2h2.8v2.8h-2.8z M285.4 227.2h2.8v2.8h-2.8z M288.9 222.2h2.8v2.8h-2.8z M299.4 219.2h2.8v2.8h-2.8z M290.5 220.5h2.8v2.8h-2.8z M313.3 231.6h2.8v2.8h-2.8z M309.7 243.7h2.8v2.8h-2.8z M275.1 224.6h2.8v2.8h-2.8z M313.4 238.6h2.8v2.8h-2.8z M285.4 200.2h2.8v2.8h-2.8z M233.2 246.5h2.8v2.8h-2.8z M254.8 225.0h2.8v2.8h-2.8z M237.6 242.2h2.8v2.8h-2.8z M183.2 255.5h2.8v2.8h-2.8z M261.5 226.2h2.8v2.8h-2.8z M260.1 231.7h2.8v2.8h-2.8z M215.9 254.7h2.8v2.8h-2.8z M248.7 226.0h2.8v2.8h-2.8z M210.6 241.1h2.8v2.8h-2.8z M201.8 232.6h2.8v2.8h-2.8z M199.9 248.6h2.8v2.8h-2.8z M171.5 247.0h2.8v2.8h-2.8z M211.4 226.1h2.8v2.8h-2.8z M201.1 245.5h2.8v2.8h-2.8z" fill="#3fae3c" stroke="none" opacity=".9"/>
<path d="M189.7 235.7l3 .6l-1.8 2.2z M231.3 233.3l3 .6l-1.8 2.2z M231.3 243.1l3 .6l-1.8 2.2z M235.4 239.8l3 .6l-1.8 2.2z M175.3 257.9l3 .6l-1.8 2.2z M234.9 251.0l3 .6l-1.8 2.2z M240.6 257.0l3 .6l-1.8 2.2z M256.6 256.2l3 .6l-1.8 2.2z M262.6 256.2l3 .6l-1.8 2.2z M256.9 266.8l3 .6l-1.8 2.2z M260.2 266.8l3 .6l-1.8 2.2z M378.5 249.8l3 .6l-1.8 2.2z M466.2 254.4l3 .6l-1.8 2.2z M497.9 273.5l3 .6l-1.8 2.2z M454.8 255.2l3 .6l-1.8 2.2z M466.2 254.6l3 .6l-1.8 2.2z M483.9 209.5l3 .6l-1.8 2.2z M537.0 218.2l3 .6l-1.8 2.2z M541.9 227.6l3 .6l-1.8 2.2z M493.7 229.6l3 .6l-1.8 2.2z M470.1 231.7l3 .6l-1.8 2.2z M457.8 232.4l3 .6l-1.8 2.2z M507.6 239.9l3 .6l-1.8 2.2z M527.2 242.7l3 .6l-1.8 2.2z M531.3 242.7l3 .6l-1.8 2.2z M473.3 240.2l3 .6l-1.8 2.2z M464.3 245.1l3 .6l-1.8 2.2z M479.9 254.9l3 .6l-1.8 2.2z M506.0 254.9l3 .6l-1.8 2.2z M530.5 253.3l3 .6l-1.8 2.2z M505.2 251.3l3 .6l-1.8 2.2z M477.4 259.0l3 .6l-1.8 2.2z M396.0 194.1l3 .6l-1.8 2.2z M424.6 193.3l3 .6l-1.8 2.2z M393.1 206.4l3 .6l-1.8 2.2z M409.7 210.1l3 .6l-1.8 2.2z M428.6 215.0l3 .6l-1.8 2.2z M394.3 213.2l3 .6l-1.8 2.2z M398.6 215.0l3 .6l-1.8 2.2z M390.7 218.1l3 .6l-1.8 2.2z M402.9 218.7l3 .6l-1.8 2.2z M427.4 218.3l3 .6l-1.8 2.2z M453.1 219.3l3 .6l-1.8 2.2z M423.7 234.0l3 .6l-1.8 2.2z M435.4 233.7l3 .6l-1.8 2.2z M458.0 231.8l3 .6l-1.8 2.2z M470.3 231.3l3 .6l-1.8 2.2z M493.5 229.7l3 .6l-1.8 2.2z M410.9 235.0l3 .6l-1.8 2.2z M438.4 242.6l3 .6l-1.8 2.2z M461.1 241.1l3 .6l-1.8 2.2z M464.1 245.2l3 .6l-1.8 2.2z M486.2 240.4l3 .6l-1.8 2.2z M454.3 255.0l3 .6l-1.8 2.2z M479.4 255.0l3 .6l-1.8 2.2z M492.3 255.0l3 .6l-1.8 2.2z M426.2 203.4l3 .6l-1.8 2.2z M412.7 194.8l3 .6l-1.8 2.2z M424.3 194.8l3 .6l-1.8 2.2z M265.0 230.0l3 .6l-1.8 2.2z M293.5 251.1l3 .6l-1.8 2.2z M258.0 224.8l3 .6l-1.8 2.2z M272.0 229.6l3 .6l-1.8 2.2z M300.5 250.4l3 .6l-1.8 2.2z M301.0 250.8l3 .6l-1.8 2.2z M301.5 238.3l3 .6l-1.8 2.2z M308.5 243.3l3 .6l-1.8 2.2z M317.5 249.7l3 .6l-1.8 2.2z M310.0 237.6l3 .6l-1.8 2.2z M326.0 242.7l3 .6l-1.8 2.2z M337.1 243.5l3 .6l-1.8 2.2z M355.4 250.0l3 .6l-1.8 2.2z M362.2 234.2l3 .6l-1.8 2.2z M394.6 249.6l3 .6l-1.8 2.2z M349.7 215.1l3 .6l-1.8 2.2z M382.7 235.6l3 .6l-1.8 2.2z M400.3 240.8l3 .6l-1.8 2.2z M337.3 202.3l3 .6l-1.8 2.2z M357.3 209.7l3 .6l-1.8 2.2z M345.3 202.5l3 .6l-1.8 2.2z M365.4 210.4l3 .6l-1.8 2.2z M386.7 217.7l3 .6l-1.8 2.2z M435.2 245.9l3 .6l-1.8 2.2z M199.5 254.3l3 .6l-1.8 2.2z M196.0 244.3l3 .6l-1.8 2.2z M251.0 246.8l3 .6l-1.8 2.2z M258.5 246.0l3 .6l-1.8 2.2z M196.0 265.4l3 .6l-1.8 2.2z M192.0 255.4l3 .6l-1.8 2.2z M206.0 252.9l3 .6l-1.8 2.2z M232.0 260.3l3 .6l-1.8 2.2z M239.0 259.4l3 .6l-1.8 2.2z M241.0 247.9l3 .6l-1.8 2.2z M260.0 256.6l3 .6l-1.8 2.2z M266.5 255.3l3 .6l-1.8 2.2z M307.8 206.4l3 .6l-1.8 2.2z M294.2 214.1l3 .6l-1.8 2.2z M306.9 203.1l3 .6l-1.8 2.2z M294.4 210.2l3 .6l-1.8 2.2z M278.5 236.4l3 .6l-1.8 2.2z M312.1 244.9l3 .6l-1.8 2.2z M315.8 239.8l3 .6l-1.8 2.2z M287.8 201.4l3 .6l-1.8 2.2z M240.0 243.4l3 .6l-1.8 2.2z M185.6 256.7l3 .6l-1.8 2.2z M263.9 227.4l3 .6l-1.8 2.2z M213.8 227.3l3 .6l-1.8 2.2z" fill="#7d6a2c" stroke="none" opacity=".8"/>
<path d="M270.6 122.4h2.6v2.6h-2.6z M312.3 124.6h2.6v2.6h-2.6z M312.0 124.6h2.6v2.6h-2.6z M378.5 115.3h2.6v2.6h-2.6z M431.2 154.8h2.6v2.6h-2.6z M516.4 165.6h2.6v2.6h-2.6z M556.7 164.9h2.6v2.6h-2.6z M503.2 121.0h2.6v2.6h-2.6z M462.4 161.6h2.6v2.6h-2.6z M456.3 179.7h2.6v2.6h-2.6z M295.9 185.1h2.6v2.6h-2.6z M238.0 223.2h2.6v2.6h-2.6z M234.7 231.7h2.6v2.6h-2.6z M294.3 202.8h2.6v2.6h-2.6z M302.5 192.2h2.6v2.6h-2.6z M46.6 250.8h2.6v2.6h-2.6z M89.1 243.0h2.6v2.6h-2.6z M127.0 261.8h2.6v2.6h-2.6z M127.0 272.6h2.6v2.6h-2.6z M144.6 260.6h2.6v2.6h-2.6z M185.5 251.9h2.6v2.6h-2.6z M204.3 278.8h2.6v2.6h-2.6z M208.9 292.4h2.6v2.6h-2.6z M172.1 271.5h2.6v2.6h-2.6z M411.6 262.3h2.6v2.6h-2.6z M412.5 298.5h2.6v2.6h-2.6z M428.8 297.4h2.6v2.6h-2.6z M497.5 272.4h2.6v2.6h-2.6z M602.7 275.0h2.6v2.6h-2.6z M618.3 238.1h2.6v2.6h-2.6z M506.1 181.0h2.6v2.6h-2.6z M509.4 222.5h2.6v2.6h-2.6z M495.5 235.5h2.6v2.6h-2.6z M567.0 225.6h2.6v2.6h-2.6z M552.7 226.0h2.6v2.6h-2.6z M595.9 236.2h2.6v2.6h-2.6z M456.0 180.3h2.6v2.6h-2.6z M336.5 179.6h2.6v2.6h-2.6z M456.5 179.1h2.6v2.6h-2.6z M334.1 196.6h2.6v2.6h-2.6z M330.8 206.9h2.6v2.6h-2.6z M452.7 218.8h2.6v2.6h-2.6z M495.5 234.7h2.6v2.6h-2.6z M461.2 241.5h2.6v2.6h-2.6z M473.5 240.0h2.6v2.6h-2.6z" fill="#2b1b14" stroke="none" opacity=".85"/>
<polyline points="37.3,324.0 33.9,265.5 35.5,263.0 40.0,262.1 76.0,259.4 125.0,256.3 164.0,253.0 169.3,252.0 170.8,250.4 169.0,246.0 165.7,240.0 165.8,236.6 168.5,233.2 175.0,228.6 201.0,221.0 236.0,216.0 267.0,212.8 271.0,210.0 285.0,194.8 297.0,192.0 316.5,188.2" stroke="#ee1218" stroke-width="3.5"/>
<polyline points="37.3,324.0 74.9,303.6 119.0,288.9 167.5,273.5 171.0,279.3 189.0,302.0 203.7,320.0 211.8,325.8 224.9,328.8 252.6,328.5 296.0,320.8 331.0,313.0 342.0,310.6 355.5,309.3" stroke="#ee1218" stroke-width="3.5"/>
<polyline points="269.0,252.9 293.4,277.9 320.0,304.6 325.0,308.0 331.0,310.0 342.0,310.4" stroke="#ee1218" stroke-width="3.5"/>
<polyline points="269.0,252.6 296.0,249.5 324.0,246.5" stroke="#ee1218" stroke-width="3.5"/>
<polyline points="317.2,189.0 317.2,246.5" stroke="#ee1218" stroke-width="3.5"/>
<polyline points="316.5,188.2 373.8,182.4 432.0,175.3 444.0,175.3 449.3,176.8 451.3,180.0 450.6,182.6 447.0,183.3 409.7,182.2 368.0,185.8" stroke="#ee1218" stroke-width="3.6"/>
<polyline points="368.0,185.8 368.0,190.3 364.8,190.3 361.4,194.8 369.7,195.5 370.4,200.0 358.0,200.0 350.0,193.7 344.6,193.7 335.6,188.0" stroke="#ee1218" stroke-width="3.0"/>
<circle cx="355.8" cy="309.3" r="1.5" fill="#3fae3c"/>
<g fill="#000" opacity=".2" stroke="none" font-family="Liberation Sans,Noto Sans CJK SC,sans-serif"><clipPath id="c207"><polygon points="207.5,-52.2 195.9,-35.0 201.9,-10.5 227.4,-10.9 244.1,-25.8 214.1,-26.7 209.7,-51.5"/></clipPath><mask id="mc207" maskUnits="userSpaceOnUse" x="188" y="-62" width="80" height="80"><rect x="188" y="-62" width="80" height="80" fill="#fff"/><polyline points="197.4,-44.0 204.7,-14.0 236.4,-14.4" stroke="#000" stroke-width="2.1" fill="none" stroke-linejoin="miter" stroke-linecap="butt"/><polyline points="201.8,-50.4 209.3,-19.6 242.8,-20.2" stroke="#000" stroke-width="2.1" fill="none" stroke-linejoin="miter" stroke-linecap="butt"/></mask><polygon points="207.5,-52.2 195.9,-35.0 201.9,-10.5 227.4,-10.9 244.1,-25.8 214.1,-26.7 209.7,-51.5" mask="url(#mc207)"/><path d="M219.1 -32.3L215.4 -48.0A16.2 16.2 0 0 1 235.3 -32.7Z"/><g transform="translate(207.5 -52.2) rotate(38.8)"><text x="52.6" y="16.8" font-size="24" font-weight="400" letter-spacing="-0.2">迪迈科技</text><text x="55" y="35.4" font-size="12.4" letter-spacing="0.9" font-weight="400">DIGITAL MINE</text></g><clipPath id="c342"><polygon points="342.0,58.3 330.4,75.5 336.4,100.0 361.9,99.6 378.6,84.7 348.6,83.8 344.2,59.0"/></clipPath><mask id="mc342" maskUnits="userSpaceOnUse" x="322" y="48" width="80" height="80"><rect x="322" y="48" width="80" height="80" fill="#fff"/><polyline points="331.9,66.5 339.2,96.5 370.9,96.1" stroke="#000" stroke-width="2.1" fill="none" stroke-linejoin="miter" stroke-linecap="butt"/><polyline points="336.3,60.1 343.8,90.9 377.3,90.3" stroke="#000" stroke-width="2.1" fill="none" stroke-linejoin="miter" stroke-linecap="butt"/></mask><polygon points="342.0,58.3 330.4,75.5 336.4,100.0 361.9,99.6 378.6,84.7 348.6,83.8 344.2,59.0" mask="url(#mc342)"/><path d="M353.6 78.2L349.9 62.5A16.2 16.2 0 0 1 369.8 77.8Z"/><g transform="translate(342.0 58.3) rotate(38.8)"><text x="52.6" y="16.8" font-size="24" font-weight="400" letter-spacing="-0.2">迪迈科技</text><text x="55" y="35.4" font-size="12.4" letter-spacing="0.9" font-weight="400">DIGITAL MINE</text></g><clipPath id="c476"><polygon points="476.7,168.9 465.1,186.1 471.1,210.6 496.6,210.2 513.3,195.3 483.3,194.4 478.9,169.6"/></clipPath><mask id="mc476" maskUnits="userSpaceOnUse" x="457" y="159" width="80" height="80"><rect x="457" y="159" width="80" height="80" fill="#fff"/><polyline points="466.6,177.1 473.9,207.1 505.6,206.7" stroke="#000" stroke-width="2.1" fill="none" stroke-linejoin="miter" stroke-linecap="butt"/><polyline points="471.0,170.7 478.5,201.5 512.0,200.9" stroke="#000" stroke-width="2.1" fill="none" stroke-linejoin="miter" stroke-linecap="butt"/></mask><polygon points="476.7,168.9 465.1,186.1 471.1,210.6 496.6,210.2 513.3,195.3 483.3,194.4 478.9,169.6" mask="url(#mc476)"/><path d="M488.3 188.8L484.6 173.1A16.2 16.2 0 0 1 504.5 188.4Z"/><g transform="translate(476.7 168.9) rotate(38.8)"><text x="52.6" y="16.8" font-size="24" font-weight="400" letter-spacing="-0.2">迪迈科技</text><text x="55" y="35.4" font-size="12.4" letter-spacing="0.9" font-weight="400">DIGITAL MINE</text></g><clipPath id="c611"><polygon points="611.2,279.4 599.6,296.6 605.6,321.1 631.1,320.7 647.8,305.8 617.8,304.9 613.4,280.1"/></clipPath><mask id="mc611" maskUnits="userSpaceOnUse" x="591" y="269" width="80" height="80"><rect x="591" y="269" width="80" height="80" fill="#fff"/><polyline points="601.1,287.6 608.4,317.6 640.1,317.2" stroke="#000" stroke-width="2.1" fill="none" stroke-linejoin="miter" stroke-linecap="butt"/><polyline points="605.5,281.2 613.0,312.0 646.5,311.4" stroke="#000" stroke-width="2.1" fill="none" stroke-linejoin="miter" stroke-linecap="butt"/></mask><polygon points="611.2,279.4 599.6,296.6 605.6,321.1 631.1,320.7 647.8,305.8 617.8,304.9 613.4,280.1" mask="url(#mc611)"/><path d="M622.8 299.3L619.1 283.6A16.2 16.2 0 0 1 639.0 298.9Z"/><g transform="translate(611.2 279.4) rotate(38.8)"><text x="52.6" y="16.8" font-size="24" font-weight="400" letter-spacing="-0.2">迪迈科技</text><text x="55" y="35.4" font-size="12.4" letter-spacing="0.9" font-weight="400">DIGITAL MINE</text></g></g>
</svg><!--/MAPSVG-->
  </div>
  <div id="side" class="abs">
    <div id="fs" class="abs"></div>
    <div id="legend" class="abs" style="left:26px">显示</div>
    <div id="tree" class="abs" style="left:36px"></div>
    <svg class="abs" style="left:1px;top:0" width="254" height="358" fill="none">
<g stroke="#9aa3b0" stroke-width="1"><line x1="59.5" y1="71.5" x2="59.5" y2="154.6"/><line x1="64.6" y1="83.0" x2="73.2" y2="83.0"/><line x1="64.6" y1="106.2" x2="73.2" y2="106.2"/><line x1="64.6" y1="128.7" x2="73.2" y2="128.7"/><line x1="64.6" y1="151.9" x2="73.2" y2="151.9"/></g>
<g fill="#f3f5f7" stroke="#b4bcc8" stroke-width="1"><rect x="54.5" y="78.0" width="10" height="10"/><rect x="54.5" y="101.2" width="10" height="10"/><rect x="54.5" y="123.7" width="10" height="10"/><rect x="54.5" y="146.9" width="10" height="10"/></g>
<path stroke="#2a2020" stroke-width="1.5" d="M55.6 86.1h8.6M59.8 81.1v9.5M55.6 108.9h8.6M59.8 103.9v9.5M55.6 131.4h8.6M59.8 126.4v9.5M55.6 154.6h8.6M59.8 149.6v9.5"/>
</svg>
    <div class="abs t0" style="left:50px">井下循环风流</div>
    <div class="abs ti" style="left:80.5px;top:74.5px">回路1</div>
    <div class="abs ti" style="left:80.5px;top:97px">回路2</div>
    <div class="abs ti" style="left:80.5px;top:119px">回路3</div>
    <div class="abs ti" style="left:80.5px;top:142px">回路4</div>
    <div class="abs lbl" style="left:37.8px;top:263.6px">所选回路<b lang="zh-TW">：</b></div>
    <div class="abs inp" style="top:260.2px"><i>1</i></div>
    <div class="abs lbl" style="left:37.8px;top:304.8px">最小风量<b lang="zh-TW">：</b></div>
    <div class="abs inp" style="top:300.2px;height:27px;padding-top:3.8px"><i>2</i><i>.</i><i>3</i><i>8</i></div>
  </div>
<!--OVERLAY--><svg class="abs" style="left:0;top:0" width="912" height="358" viewBox="0 0 912 358"><line x1="457.0" y1="179.6" x2="672.3" y2="95.9" stroke="#ee1218" stroke-width="1.4" stroke-dasharray="3.1 1.4"/><polygon points="669.2,89.3 688.7,89.3 675.0,102.8" fill="#f5050a"/></svg><!--/OVERLAY-->
</div>
<div id="cap" class="abs">通风网络循环风检测结果</div>
</body>
</html>
